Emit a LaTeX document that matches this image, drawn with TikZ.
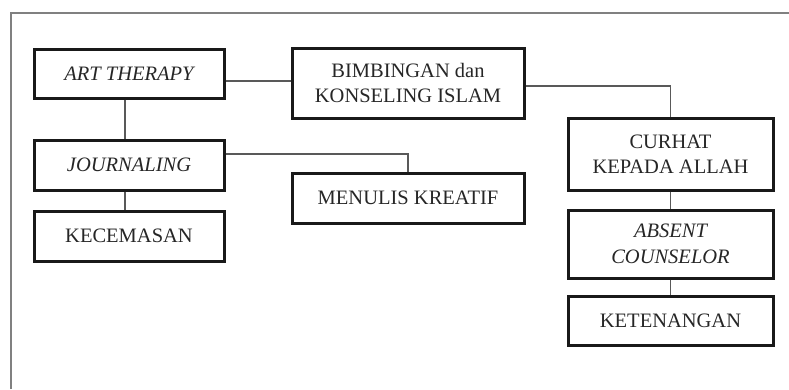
\documentclass[tikz,border=0pt]{standalone}
\usepackage{fontspec}
\setmainfont{Liberation Serif}
\begin{document}
\begin{tikzpicture}[x=1pt,y=-1pt,
  box/.style={draw=black!90, line width=3pt, inner sep=0pt, align=center,
    text=black!85, font=\fontsize{20.5}{25.5}\selectfont},
  conn/.style={draw=black!65, line width=1.5pt},
  frame/.style={draw=black!50, line width=2pt}]
\useasboundingbox (0,0) rectangle (789,389);
\draw[frame] (11,389) -- (11,13) -- (789,13);
\node[box, minimum width=190pt, minimum height=49pt] (art) at (129,73.5) {\itshape ART THERAPY};
\node[box, minimum width=232pt, minimum height=70pt] (bim) at (408,83) {BIMBINGAN dan\\KONSELING ISLAM};
\node[box, minimum width=190pt, minimum height=50pt] (jour) at (129,165) {\itshape JOURNALING};
\node[box, minimum width=232pt, minimum height=50pt] (men) at (408,198) {MENULIS KREATIF};
\node[box, minimum width=190pt, minimum height=50pt] (kec) at (129,236) {KECEMASAN};
\node[box, minimum width=205pt, minimum height=72pt] (cur) at (670.5,154) {CURHAT\\KEPADA ALLAH};
\node[box, minimum width=205pt, minimum height=68pt] (abs) at (670.5,244) {\itshape ABSENT\\\itshape COUNSELOR};
\node[box, minimum width=205pt, minimum height=49pt] (ket) at (670.5,320.5) {KETENANGAN};
\draw[conn] (art.east |- 0,81) -- (bim.west |- 0,81);
\draw[conn] (art.south -| 125,0) -- (jour.north -| 125,0);
\draw[conn] (jour.south -| 125,0) -- (kec.north -| 125,0);
\draw[conn] (jour.east |- 0,154) -| (men.north);
\draw[conn] (bim.east |- 0,86) -| (cur.north);
\draw[conn] (cur.south) -- (abs.north);
\draw[conn] (abs.south) -- (ket.north);
\end{tikzpicture}
\end{document}
